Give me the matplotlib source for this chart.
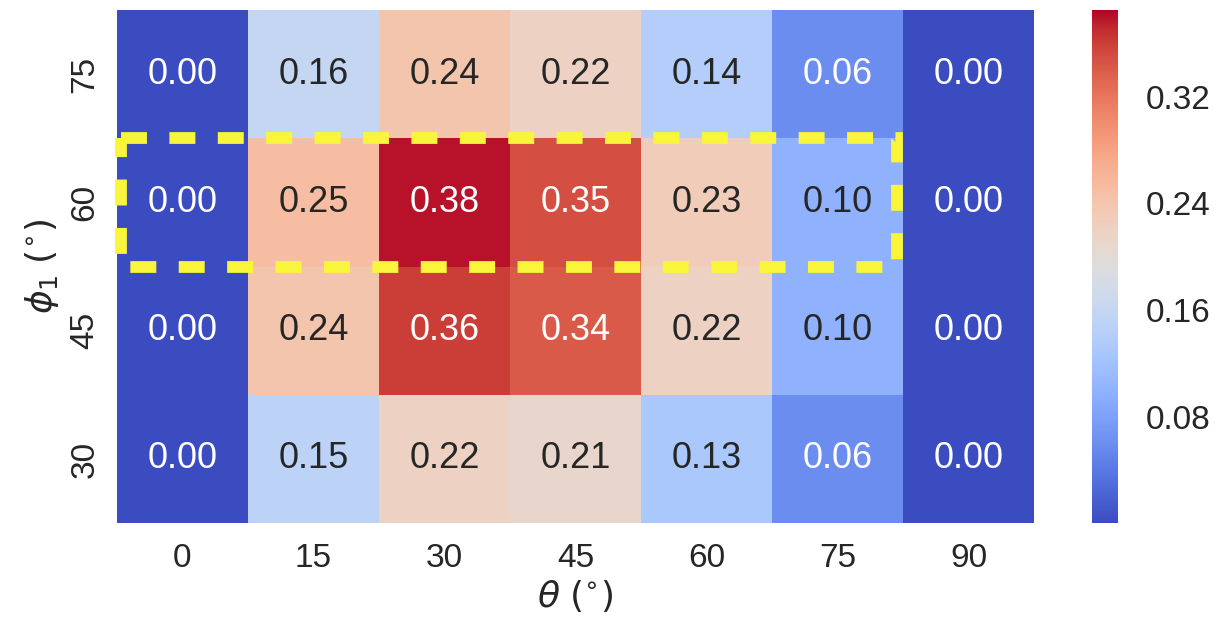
import matplotlib
matplotlib.use("Agg")
import matplotlib.pyplot as plt
import matplotlib.patches as patches
import numpy as np
import seaborn as sns

theta_labels = ["0", "15", "30", "45", "60", "75", "90"]
phi_labels = ["75", "60", "45", "30"]

row_75 = [0.00, 0.16, 0.24, 0.22, 0.14, 0.06, 0.00]
row_60 = [0.00, 0.25, 0.38, 0.35, 0.23, 0.10, 0.00]
row_45 = [0.00, 0.24, 0.36, 0.34, 0.22, 0.10, 0.00]
row_30 = [0.00, 0.15, 0.22, 0.21, 0.13, 0.06, 0.00]

cbar_ticks = [0.08, 0.16, 0.24, 0.32]

sns.set_theme(style="white")
plt.rcParams["font.family"] = ["Liberation Sans", "DejaVu Sans"]
plt.rcParams["mathtext.fontset"] = "dejavusans"

values = np.array([row_75, row_60, row_45, row_30])

fig = plt.figure(figsize=(12.18, 6.25), dpi=100)
ax = fig.add_axes([0.096, 0.163, 0.753, 0.821])
cax = fig.add_axes([0.8966, 0.163, 0.0215, 0.821])

sns.heatmap(values, ax=ax, cbar_ax=cax, cmap="coolwarm", vmin=0.0, vmax=0.385,
            annot=True, fmt=".2f", annot_kws={"fontsize": 26},
            xticklabels=theta_labels, yticklabels=phi_labels,
            cbar_kws={"ticks": cbar_ticks})

ax.tick_params(axis="both", length=0, labelsize=24, colors="#262626")
ax.tick_params(axis="x", pad=14)
ax.tick_params(axis="y", pad=12)
plt.setp(ax.get_yticklabels(), rotation=90, va="center")
plt.setp(ax.get_xticklabels(), rotation=0)
ax.set_xlabel(r"$\theta$ $(^{\circ})$", fontsize=26, color="#262626", labelpad=4)
ax.set_ylabel(r"$\phi_1$ $(^{\circ})$", fontsize=26, color="#262626", labelpad=6)

cax.tick_params(length=0, labelsize=24, colors="#262626", pad=20)
cax.yaxis.set_major_formatter(matplotlib.ticker.FormatStrFormatter("%.2f"))

# highlight the phi_1 = 60 row
box = patches.Rectangle((0.03, 1.0), 5.92, 1.0, fill=False,
                        edgecolor="#f8f53a", linewidth=8.5,
                        linestyle=(0, (2.2, 1.9)), clip_on=False, zorder=5)
ax.add_patch(box)

fig.savefig("out.png", dpi=100)
